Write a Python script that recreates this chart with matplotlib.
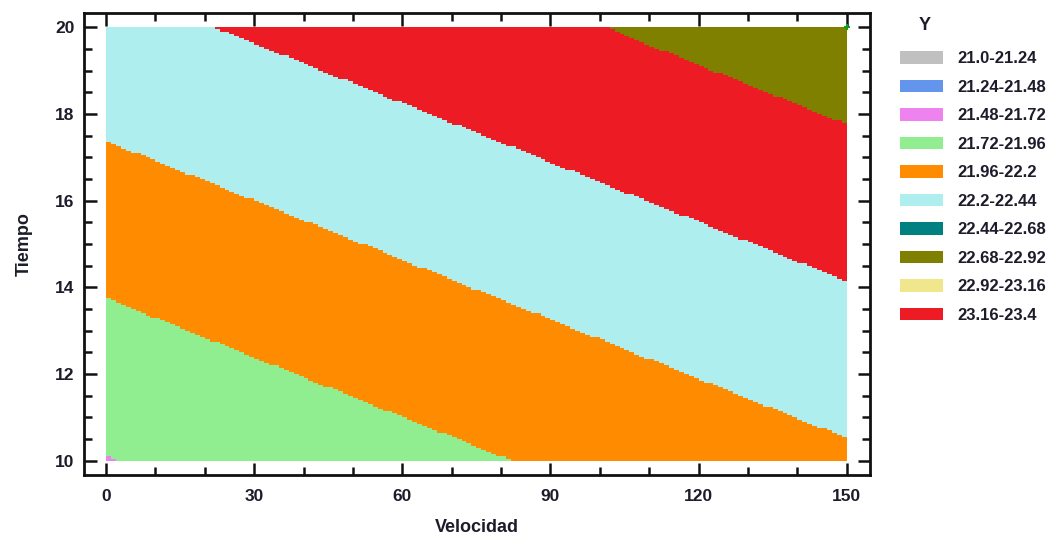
import numpy as np
import matplotlib
matplotlib.use("Agg")
from matplotlib import pyplot as plt
from matplotlib.colors import ListedColormap, BoundaryNorm
from matplotlib.patches import Patch
from matplotlib.ticker import MultipleLocator

# fitted response surface: Y = b0 + bV*Velocidad + bT*Tiempo
b0 = 21.048
b_vel = 0.00303
b_tiempo = 0.0663

vel_range = [0, 150]
tiempo_range = [10, 20]

# contour levels and legend
levels = [21.0, 21.24, 21.48, 21.72, 21.96, 22.2, 22.44, 22.68, 22.92, 23.16, 23.4]
level_labels = ['21.0-21.24', '21.24-21.48', '21.48-21.72', '21.72-21.96', '21.96-22.2',
                '22.2-22.44', '22.44-22.68', '22.68-22.92', '22.92-23.16', '23.16-23.4']
legend_colors = ['#c0c0c0', '#6495ed', '#ee82ee', '#90ee90', '#ff8c00',
                 '#afeeee', '#008080', '#808000', '#f0e68c', '#ed1c24']
# colours the surface is painted with, band by band
band_colors = ['#c0c0c0', '#6495ed', '#ee82ee', '#90ee90', '#ff8c00',
               '#afeeee', '#ed1c24', '#808000', '#f0e68c', '#ed1c24']

# design point marked on the plot
point_vel = [150]
point_tiempo = [20]

text_color = '#1c1c2a'
plt.rcParams['font.family'] = ['Liberation Sans', 'DejaVu Sans']

fig = plt.figure(figsize=(10.57, 5.38), dpi=100)
ax = fig.add_axes([0.0795, 0.117, 0.7435, 0.859])

v_edges = np.linspace(vel_range[0], vel_range[1], 151)
t_edges = np.linspace(tiempo_range[0], tiempo_range[1], 201)
vc = (v_edges[:-1] + v_edges[1:]) / 2
tc = (t_edges[:-1] + t_edges[1:]) / 2
V, T = np.meshgrid(vc, tc)
Y = b0 + b_vel * V + b_tiempo * T

cmap = ListedColormap(band_colors)
norm = BoundaryNorm(levels, cmap.N)
ax.pcolormesh(v_edges, t_edges, Y, cmap=cmap, norm=norm, shading='flat')
ax.plot(point_vel, point_tiempo, '+', color='#1a9a1a', ms=5, mew=1.5, clip_on=False)

ax.set_xlim(-4.45, 154.7)
ax.set_ylim(9.67, 20.33)
ax.xaxis.set_major_locator(MultipleLocator(30))
ax.xaxis.set_minor_locator(MultipleLocator(10))
ax.yaxis.set_major_locator(MultipleLocator(2))
ax.yaxis.set_minor_locator(MultipleLocator(0.5))
ax.tick_params(which='both', direction='in', top=True, right=True, width=1.8,
               color='#111111', labelsize=12.5, labelcolor=text_color)
ax.tick_params(axis='x', pad=10)
ax.tick_params(axis='y', pad=7)
ax.tick_params(which='major', length=9)
ax.tick_params(which='minor', length=6)
for lbl in ax.get_xticklabels() + ax.get_yticklabels():
    lbl.set_fontweight('bold')
for s in ax.spines.values():
    s.set_linewidth(2)
    s.set_color('#111111')

ax.set_xlabel('Velocidad', fontsize=13, fontweight='bold', color=text_color, labelpad=11)
ax.set_ylabel('Tiempo', fontsize=13, fontweight='bold', color=text_color, labelpad=16)

# legend: colour key for each Y band
fig.text(925 / 1057, 1 - 25 / 538, 'Y', ha='center', va='center',
         fontsize=13, fontweight='bold', color=text_color)
handles = [Patch(facecolor=c, edgecolor='none') for c in legend_colors]
leg = fig.legend(handles, level_labels, loc='upper left',
                 bbox_to_anchor=(0.837, 1 - 36 / 538), frameon=False,
                 prop={'size': 12, 'weight': 'bold'}, handlelength=2.58,
                 handleheight=0.8, labelspacing=0.8, handletextpad=0.85,
                 borderpad=0.4)
for t in leg.get_texts():
    t.set_color(text_color)

fig.savefig('out.png', dpi=100)
